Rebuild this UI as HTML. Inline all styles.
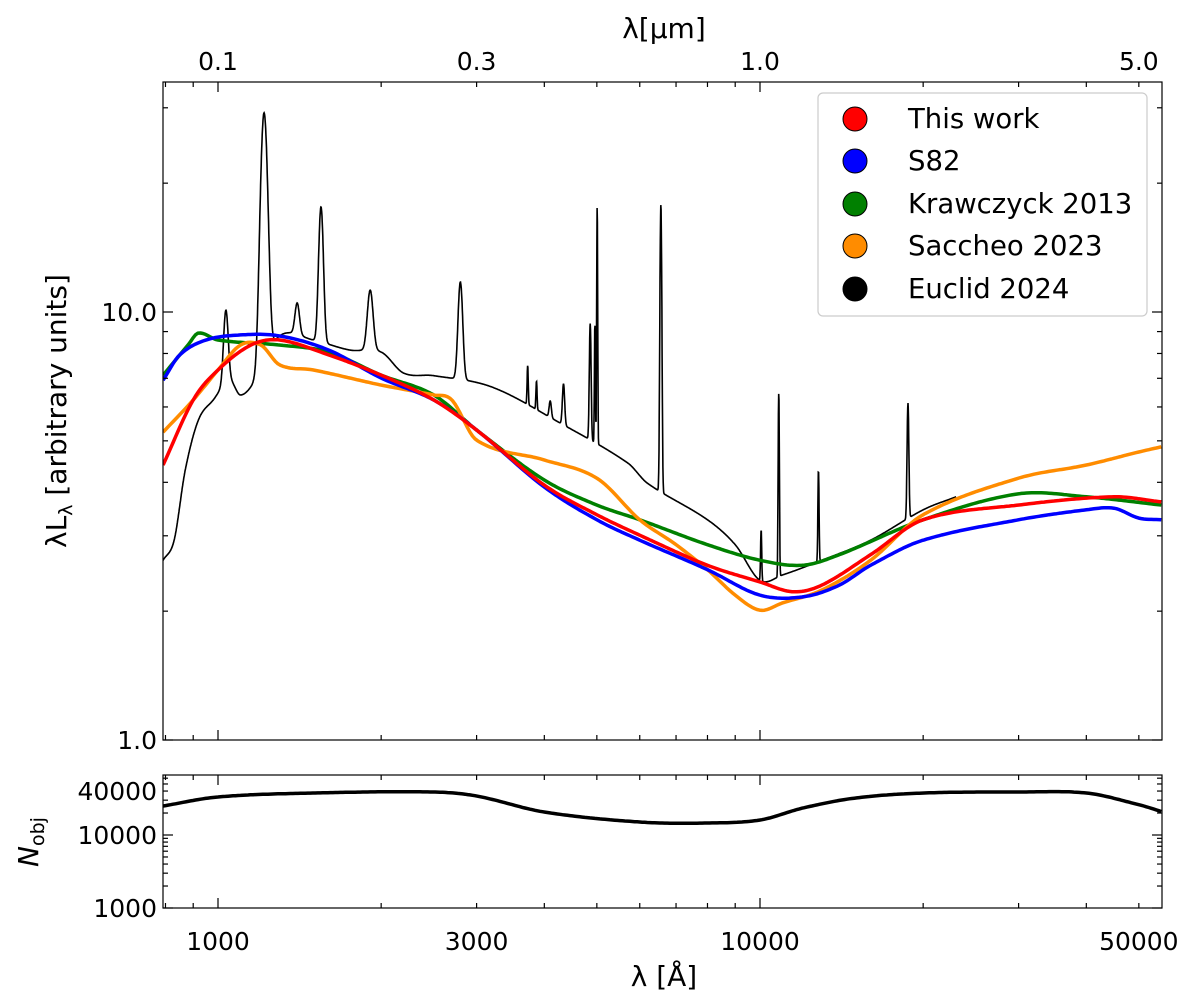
<!DOCTYPE html>
<html><head><meta charset="utf-8"><style>
body{margin:0;background:#fff}
svg{display:block;font-family:"DejaVu Sans","Liberation Sans",sans-serif}
</style></head><body>
<svg id="chart" width="1200" height="1000" xmlns="http://www.w3.org/2000/svg">
<g id="curves"></g>
<g id="axes"></g>
<g id="legend">
<rect x="818" y="93" width="329" height="223" rx="5" fill="#fff" stroke="#ccc" stroke-width="1.2"/>
<circle cx="855" cy="119" r="12" fill="red" stroke="#000" stroke-width="1"/>
<text x="908" y="128" font-size="27.5">This work</text>
<circle cx="855" cy="161" r="12" fill="blue" stroke="#000" stroke-width="1"/>
<text x="908" y="170" font-size="27.5">S82</text>
<circle cx="855" cy="204" r="12" fill="green" stroke="#000" stroke-width="1"/>
<text x="908" y="213" font-size="27.5">Krawczyck 2013</text>
<circle cx="855" cy="246" r="12" fill="darkorange" stroke="#000" stroke-width="1"/>
<text x="908" y="255" font-size="27.5">Saccheo 2023</text>
<circle cx="855" cy="289" r="12" fill="#000" stroke="#000" stroke-width="1"/>
<text x="908" y="298" font-size="27.5">Euclid 2024</text>
</g>
</svg>
<script>
// ---- data ----
const redLam=[792,900,1000,1150,1300,1600,2000,2500,3000,4000,5000,6000,8000,10000,11500,13000,16000,20000,30000,45000,55000];
const redVal=[4.39,6.23,7.32,8.37,8.60,7.94,7.12,6.23,5.30,3.94,3.36,3.01,2.56,2.34,2.22,2.30,2.71,3.27,3.54,3.70,3.60];
const blueLam=[792,850,950,1100,1300,1600,2000,2500,3000,4000,5000,6000,8000,10000,12000,14000,16000,20000,30000,40000,45000,50000,55000];
const blueVal=[6.93,7.94,8.60,8.84,8.79,8.15,7.01,6.23,5.30,3.90,3.27,2.93,2.50,2.18,2.16,2.30,2.56,2.93,3.27,3.45,3.48,3.30,3.27];
const greenLam=[792,880,920,1000,1300,1600,2000,2500,3000,4000,5000,6000,8000,10000,12000,14000,20000,30000,40000,55000];
const greenVal=[7.12,8.37,8.93,8.60,8.37,8.06,7.12,6.40,5.30,4.05,3.54,3.27,2.86,2.63,2.56,2.71,3.27,3.76,3.70,3.54];
const orangeLam=[792,900,1000,1100,1200,1300,1500,2000,2500,2700,3000,4000,5000,6000,7000,8000,9000,10000,11000,13000,16000,20000,30000,40000,50000,55000];
const orangeVal=[5.24,6.23,7.32,8.37,8.37,7.52,7.32,6.75,6.40,6.23,5.02,4.51,4.09,3.27,2.86,2.50,2.18,2.01,2.09,2.24,2.63,3.36,4.09,4.39,4.71,4.84];
const blackLam=[792,830,870,920,980,1050,1100,1170,1300,1500,1750,2000,2200,2500,3200,4270,5700,6200,8000,9000,10000,11000,13000,16000,20000,23000];
const blackVal=[2.63,2.93,4.27,5.59,6.23,6.93,6.40,6.90,8.80,8.60,8.15,8.06,7.20,7.10,6.68,5.51,4.44,3.98,3.27,2.86,2.36,2.43,2.63,2.93,3.45,3.70];
const lineLam=[1034,1216,1400,1549,1909,2800,3727,3869,4102,4340,4861,4959,5007,6563,10049,10830,12820,18750];
const linePeak=[10.1,29.2,10.5,17.6,11.25,11.75,7.5,6.9,6.2,6.8,9.4,9.4,17.6,17.8,3.1,6.47,4.27,6.13];
const lineWidthDex=[0.004,0.006,0.004,0.004,0.005,0.004,0.001,0.001,0.002,0.002,0.0015,0.0008,0.0008,0.0015,0.001,0.001,0.001,0.0015];
const nobjLam=[792,1000,1500,2500,3000,4000,6000,8000,10000,12000,15000,20000,30000,40000,50000,55000];
const nobjVal=[24970,33200,37600,38800,34200,20650,15060,14600,16040,23430,32100,37600,38800,37600,26000,21000];
const xTickVals=[1000,3000,10000,50000];
const umTickVals=[0.1,0.3,1.0,5.0];

// ---- axes ----
const X0=163,X1=1162;
const MT=82,MB=740,LT=775,LB=908;
const xs=l=>218+542*Math.log10(l/1000);
const ym=v=>740-428*Math.log10(v);
const yb=v=>908-73*(Math.log10(v)-3);
const NS="http://www.w3.org/2000/svg";
function mk(tag,attrs,parent){const e=document.createElementNS(NS,tag);for(const k in attrs)e.setAttribute(k,attrs[k]);parent.appendChild(e);return e;}
const curves=document.getElementById('curves'),axes=document.getElementById('axes');
const clipDefs=mk('defs',{},curves);
const cp=mk('clipPath',{id:'cm'},clipDefs);mk('rect',{x:X0,y:MT,width:X1-X0,height:MB-MT},cp);
const cp2=mk('clipPath',{id:'cb'},clipDefs);mk('rect',{x:X0,y:LT,width:X1-X0,height:LB-LT},cp2);

function smoothInterp(lams,vals,l){
  const X=lams.map(Math.log10),Y=vals.map(Math.log10),t=Math.log10(l),n=X.length;
  if(t<=X[0])return vals[0];if(t>=X[n-1])return vals[n-1];
  let i=1;while(t>X[i])i++;
  const x0=X[i-1],x1=X[i],h=x1-x0,s=(t-x0)/h;
  const m=k=>{if(k<=0)return (Y[1]-Y[0])/(X[1]-X[0]);if(k>=n-1)return (Y[n-1]-Y[n-2])/(X[n-1]-X[n-2]);return (Y[k+1]-Y[k-1])/(X[k+1]-X[k-1]);};
  const m0=m(i-1),m1=m(i);
  const h00=2*s*s*s-3*s*s+1,h10=s*s*s-2*s*s+s,h01=-2*s*s*s+3*s*s,h11=s*s*s-s*s;
  return Math.pow(10,h00*Y[i-1]+h10*h*m0+h01*Y[i]+h11*h*m1);
}
function smoothPath(lams,vals,yf,n){
  let d='';const a=Math.log10(lams[0]),b=Math.log10(lams[lams.length-1]);
  for(let i=0;i<=n;i++){const l=Math.pow(10,a+(b-a)*i/n);const v=smoothInterp(lams,vals,l);d+=(i?'L':'M')+xs(l).toFixed(1)+','+yf(v).toFixed(1);}
  return d;
}
let bd='';{const a=Math.log10(792),b=Math.log10(23000),n=3000;
for(let i=0;i<=n;i++){const t=a+(b-a)*i/n;const l=Math.pow(10,t);let v=smoothInterp(blackLam,blackVal,l);
for(let j=0;j<lineLam.length;j++){const dt=t-Math.log10(lineLam[j]);const h=linePeak[j]-smoothInterp(blackLam,blackVal,lineLam[j]);v+=h*Math.exp(-0.5*dt*dt/(lineWidthDex[j]*lineWidthDex[j]));}
bd+=(i?'L':'M')+xs(l).toFixed(1)+','+ym(v).toFixed(1);}}
const bp=mk('path',{d:bd,fill:'none',stroke:'#000','stroke-width':1.6,'clip-path':'url(#cm)'},curves);


const series=[[greenLam,greenVal,'green','krawczyk-2013-line'],[orangeLam,orangeVal,'darkorange','saccheo-2023-line'],[blueLam,blueVal,'blue','s82-line'],[redLam,redVal,'red','this-work-line']];
for(const s of series){const p=mk('path',{d:smoothPath(s[0],s[1],ym,400),fill:'none',stroke:s[2],'stroke-width':3.5,'stroke-linejoin':'round','clip-path':'url(#cm)'},curves);

}
const np=mk('path',{d:smoothPath(nobjLam,nobjVal,yb,400),fill:'none',stroke:'#000','stroke-width':3.5,'clip-path':'url(#cb)'},curves);



const f1=mk('rect',{x:X0,y:MT,width:X1-X0,height:MB-MT,fill:'none',stroke:'#000','stroke-width':1.2},axes);


const f2=mk('rect',{x:X0,y:LT,width:X1-X0,height:LB-LT,fill:'none',stroke:'#000','stroke-width':1.2},axes);


function tick(x1,y1,x2,y2){mk('line',{x1,y1,x2,y2,stroke:'#000','stroke-width':1.2},axes);}
for(let dec=100;dec<=10000;dec*=10)for(let k=1;k<10;k++){const l=dec*k;if(l<792||l>55100)continue;const x=xs(l);const L=(k==1)?10:5;
tick(x,MB,x,MB-L);tick(x,LT,x,LT+L);tick(x,LB,x,LB-L);}
for(let dec=0.01;dec<=1;dec*=10)for(let k=1;k<10;k++){const u=dec*k;const l=u*10000;if(l<792||l>55100)continue;const x=xs(l);const L=(k==1)?10:5;tick(x,MT,x,MT+L);}
for(let dec=1;dec<=10;dec*=10)for(let k=1;k<10;k++){const v=dec*k;const y=ym(v);if(y<MT)continue;const L=(k==1)?10:5;tick(X0,y,X0+L,y);tick(X1,y,X1-L,y);}
for(let dec=1000;dec<=10000;dec*=10)for(let k=1;k<10;k++){const v=dec*k;const y=yb(v);if(y<LT)continue;const L=(k==1)?10:5;tick(X0,y,X0+L,y);tick(X1,y,X1-L,y);}
function txt(s,x,y,size,anchor,name){const t=mk('text',{x,y,'font-size':size,'text-anchor':anchor},axes);t.textContent=s;

return t;}
for(const v of xTickVals)txt(String(v),xs(v),950,25,'middle','x-tick-label');
for(const u of umTickVals)txt(u.toFixed(1),xs(u*10000),70,25,'middle','top-x-tick-label');
txt('10.0',157,ym(10)+9,25,'end','y-tick-label');
txt('1.0',157,ym(1)+9,25,'end','y-tick-label');
txt('40000',157,yb(40000)+9,25,'end','nobj-tick-label');
txt('10000',157,yb(10000)+9,25,'end','nobj-tick-label');
txt('1000',157,yb(1000)+9,25,'end','nobj-tick-label');
txt('λ[µm]',664,38,28,'middle','top-x-axis-title');
txt('λ [Å]',664,986,28,'middle','x-axis-title');
const yt=txt('',0,0,28,'middle','y-axis-title');yt.setAttribute('transform','translate(66,411) rotate(-90)');
yt.innerHTML='λL<tspan font-size="19" dy="6">λ</tspan><tspan dy="-6"> [arbitrary units]</tspan>';
const nt=txt('',0,0,28,'middle','nobj-axis-title');nt.setAttribute('transform','translate(38,842) rotate(-90)');
nt.innerHTML='<tspan font-style="italic">N</tspan><tspan font-size="19" dy="6">obj</tspan>';
</script>
</body></html>
